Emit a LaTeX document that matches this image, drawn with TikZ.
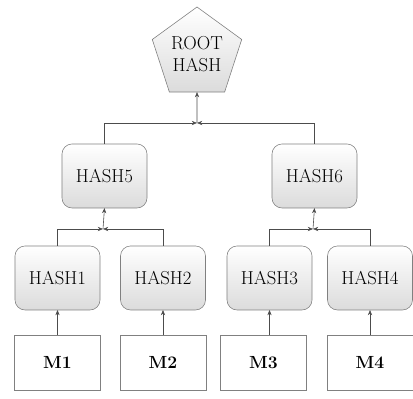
\documentclass[tikz,border=0pt]{standalone}
\usepackage{tikz}
\usetikzlibrary{arrows.meta,positioning,shapes.geometric}

\begin{document}
\begin{tikzpicture}[
    x=0.03cm, y=-0.03cm,
    node distance=0.75cm,
    >={Stealth[length=4.5pt,width=3.6pt]},
    link/.style={->, line width=0.5pt, draw=black!70},
    hashbox/.style={
      draw=black!50,
      line width=0.5pt,
      rounded corners=0.3cm,
      top color=white,
      middle color=white,
      bottom color=black!14,
      minimum width=2.55cm,
      minimum height=1.92cm,
      inner sep=0pt,
      outer sep=0pt,
      font=\fontsize{16}{18.5}\selectfont
    },
    msgbox/.style={
      draw=black!50,
      line width=0.5pt,
      fill=white,
      minimum width=2.58cm,
      minimum height=1.65cm,
      inner sep=0pt,
      outer sep=0pt,
      font=\fontsize{15}{17}\selectfont\bfseries
    },
    rootbox/.style={
      hashbox,
      regular polygon,
      regular polygon sides=5,
      rounded corners=0pt,
      minimum size=2.82cm,
      align=center
    }
  ]
    \useasboundingbox (0,0) rectangle (413,399);

    \node[rootbox] (root) at (197,54) {ROOT\\HASH};
    \node[hashbox] (hash5) at (104.5,176) {HASH5};
    \node[hashbox] (hash6) at (314.5,176) {HASH6};
    \node[hashbox] (hash1) at (57.5,278) {HASH1};
    \node[hashbox] (hash2) at (163,278) {HASH2};
    \node[hashbox] (hash3) at (269.5,278) {HASH3};
    \node[hashbox] (hash4) at (370,278) {HASH4};
    \node[msgbox, below=of hash1] (m1) {M1};
    \node[msgbox, below=of hash2] (m2) {M2};
    \node[msgbox, below=of hash3, xshift=-0.18cm] (m3) {M3};
    \node[msgbox, below=of hash4] (m4) {M4};

    % joints where two branches meet
    \coordinate (jroot) at (197,123);
    \coordinate (jleft) at (103,229);
    \coordinate (jright) at (313,229);

    \draw[link] (hash5.north) |- (jroot);
    \draw[link] (hash6.north) |- (jroot);
    \draw[link] (jroot) -- (root.south);

    \draw[link] (hash1.north) |- (jleft);
    \draw[link] (hash2.north) |- (jleft);
    \draw[link] (jleft) -- (hash5.south);

    \draw[link] (hash3.north) |- (jright);
    \draw[link] (hash4.north) |- (jright);
    \draw[link] (jright) -- (hash6.south);

    \draw[link] (m1) -- (hash1);
    \draw[link] (m2) -- (hash2);
    \draw[link] (hash3.south |- m3.north) -- (hash3.south);
    \draw[link] (m4) -- (hash4);
  \end{tikzpicture}
\end{document}
